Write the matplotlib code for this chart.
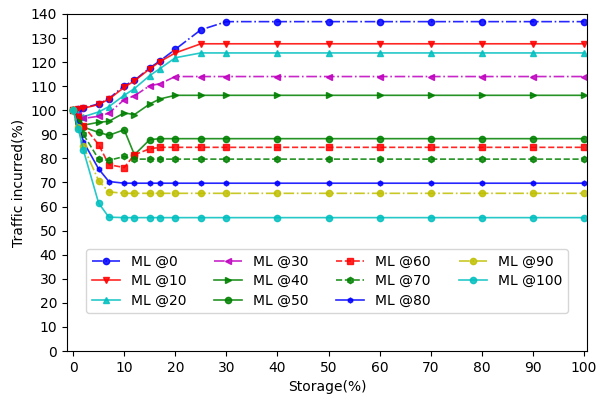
import matplotlib
matplotlib.use("Agg")
import matplotlib.pyplot as plt

# storage percentages sampled
storage = [0, 1, 2, 5, 7, 10, 12, 15, 17, 20, 25, 30, 40, 50, 60, 70, 80, 90, 100]

ml_0 = [100, 100.5, 101, 102.6, 104.8, 110.2, 112.4, 117.6, 120.5, 125.3, 133.4, 136.8,
        136.8, 136.8, 136.8, 136.8, 136.8, 136.8, 136.8]
ml_10 = [100, 100.4, 100.8, 102.4, 104.6, 109.5, 112.2, 117.2, 120.2, 123.8, 127.6, 127.6,
         127.6, 127.6, 127.6, 127.6, 127.6, 127.6, 127.6]
ml_20 = [100, 98.5, 97.3, 99.3, 101.5, 106.2, 109.0, 114.4, 117.3, 121.8, 123.8, 123.8,
         123.8, 123.8, 123.8, 123.8, 123.8, 123.8, 123.8]
ml_30 = [100, 98, 96.6, 97.5, 98.8, 104.4, 106.0, 110.2, 111.0, 114.0, 114.0, 114.0,
         114.0, 114.0, 114.0, 114.0, 114.0, 114.0, 114.0]
ml_40 = [100, 97, 93.8, 95.0, 95.4, 98.9, 98.2, 102.6, 104.7, 106.2, 106.2, 106.2,
         106.2, 106.2, 106.2, 106.2, 106.2, 106.2, 106.2]
ml_50 = [100, 96, 93.0, 90.8, 89.6, 91.9, 81.5, 87.8, 88.2, 88.2, 88.2, 88.2,
         88.2, 88.2, 88.2, 88.2, 88.2, 88.2, 88.2]
ml_60 = [100, 97, 93.6, 85.7, 77.4, 76.2, 81.5, 84.0, 84.6, 84.6, 84.6, 84.6,
         84.6, 84.6, 84.6, 84.6, 84.6, 84.6, 84.6]
ml_70 = [100, 95, 90.0, 79.7, 79.2, 80.8, 79.7, 79.7, 79.7, 79.7, 79.7, 79.7,
         79.7, 79.7, 79.7, 79.7, 79.7, 79.7, 79.7]
ml_80 = [100, 94, 87.0, 75.6, 70.4, 69.7, 69.7, 69.7, 69.7, 69.7, 69.7, 69.7,
         69.7, 69.7, 69.7, 69.7, 69.7, 69.7, 69.7]
ml_90 = [100, 93, 85.0, 70.7, 66.1, 65.5, 65.5, 65.5, 65.5, 65.5, 65.5, 65.5,
         65.5, 65.5, 65.5, 65.5, 65.5, 65.5, 65.5]
ml_100 = [100, 92.4, 83.5, 61.4, 55.6, 55.4, 55.4, 55.4, 55.4, 55.4, 55.4, 55.4,
          55.4, 55.4, 55.4, 55.4, 55.4, 55.4, 55.4]

labels = ["ML @0", "ML @10", "ML @20", "ML @30", "ML @40", "ML @50",
          "ML @60", "ML @70", "ML @80", "ML @90", "ML @100"]
series = [ml_0, ml_10, ml_20, ml_30, ml_40, ml_50, ml_60, ml_70, ml_80, ml_90, ml_100]
styles = [("b", "-.", "o", 4.5), ("r", "-", "v", 5), ("c", "-", "^", 5),
          ("m", "-.", "<", 5), ("g", "-", ">", 5), ("g", "-", "o", 4.5),
          ("r", "--", "s", 4.5), ("g", "--", "h", 4.5), ("b", "-", "h", 3.5),
          ("y", "-.", "o", 4.5), ("c", "-", "o", 4.5)]

fig = plt.figure(figsize=(5.96, 3.98), dpi=100)
ax = fig.add_axes([0.1124, 0.118, 0.8725, 0.847])

for vals, lab, (col, ls, mk, ms) in zip(series, labels, styles):
    ax.plot(storage, vals, color=col, linestyle=ls, marker=mk, markersize=ms,
            linewidth=1.2, alpha=0.85, label=lab)

ax.set_xlim(-1.2, 100.6)
ax.set_ylim(0, 140)
ax.set_xticks(range(0, 101, 10))
ax.set_yticks(range(0, 141, 10))
ax.set_xlabel("Storage(%)")
ax.set_ylabel("Traffic incurred(%)")
ax.legend(ncol=4, loc="lower center", bbox_to_anchor=(0.5, 0.1),
          labelspacing=0.4, borderaxespad=0.3)

fig.savefig("out.png", dpi=100)
